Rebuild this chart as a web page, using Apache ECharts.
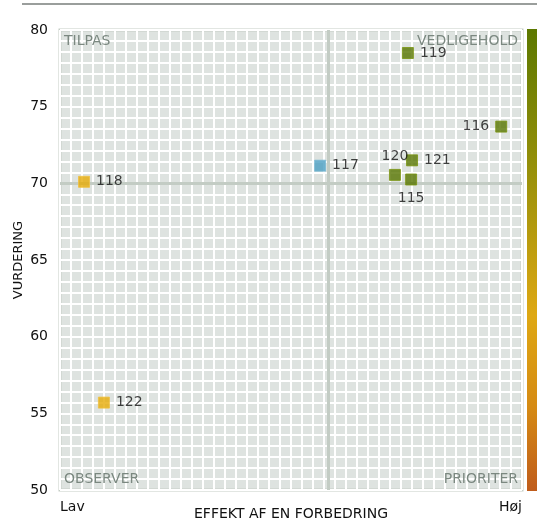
<!DOCTYPE html>
<html>
<head>
<meta charset="utf-8">
<script src="https://cdn.jsdelivr.net/npm/echarts@6/dist/echarts.min.js"></script>
<style>
  html, body { margin: 0; padding: 0; background: #fff; }
  #chart { width: 537px; height: 521px; }
</style>
</head>
<body>
<div id="chart"></div>
<script>
// data
const ids = ["119", "116", "117", "118", "120", "121", "115", "122"];
const effect = [75.3, 95.5, 56.3, 5.2, 72.5, 76.2, 76.0, 9.5];
const rating = [78.5, 73.7, 71.15, 70.1, 70.55, 71.5, 70.25, 55.7];
const groups = ["green", "green", "blue", "gold", "green", "green", "green", "gold"];
const labelPos = ["right", "left", "right", "right", "top", "right", "bottom", "right"];
const yTicks = [50, 55, 60, 65, 70, 75, 80];
const splitX = 58;
const splitY = 70;
const quadrants = ["TILPAS", "VEDLIGEHOLD", "OBSERVER", "PRIORITER"];

const palette = {
  green: { fill: "#567400", border: "#7a9612" },
  blue: { fill: "#4a9dc2", border: "#7cbad6" },
  gold: { fill: "#e6ab08", border: "#f0c040" },
};

const font = "DejaVu Sans";
const chart = echarts.init(document.getElementById("chart"), null, { renderer: "canvas" });

const points = ids.map((id, i) => ({
  name: id,
  value: [effect[i], rating[i]],
  itemStyle: { color: palette[groups[i]].fill, borderColor: palette[groups[i]].border, borderWidth: 1 },
  label: { position: labelPos[i] },
}));

const qLabel = (pos) => ({ show: true, position: pos, color: "#7b8880", fontSize: 14, fontFamily: font, distance: 4 });

chart.setOption({
  animation: false,
  textStyle: { fontFamily: font },
  grid: {
    left: 60, right: 15, top: 30, bottom: 31,
    outerBoundsMode: "none", containLabel: false,
    show: true, backgroundColor: "#dee3e0", borderColor: "#c5cec6", borderWidth: 3,
  },
  xAxis: [
    {
      type: "value", min: 0, max: 100, interval: 100,
      axisLine: { show: false }, axisTick: { show: false }, splitLine: { show: false },
      axisLabel: {
        color: "#111", fontSize: 14, margin: 10,
        alignMinLabel: "left", alignMaxLabel: "right",
        formatter: (v) => (v === 0 ? "Lav" : v === 100 ? "Høj" : ""),
      },
      name: "EFFEKT AF EN FORBEDRING", nameLocation: "middle", nameGap: 17,
      nameMoveOverlap: false,
      nameTextStyle: { color: "#111", fontSize: 14 },
    },
    {
      type: "value", min: 0, max: 42, interval: 1, show: true,
      axisLine: { show: false }, axisTick: { show: false }, axisLabel: { show: false },
      splitLine: { show: true, lineStyle: { color: "#ffffff", width: 2 } },
    },
  ],
  yAxis: [
    {
      type: "value", min: yTicks[0], max: yTicks[yTicks.length - 1], interval: 5,
      axisLine: { show: false }, axisTick: { show: false }, splitLine: { show: false },
      axisLabel: { color: "#111", fontSize: 14, margin: 12 },
      name: "VURDERING", nameLocation: "middle", nameGap: 35, nameRotate: 90,
      nameMoveOverlap: false,
      nameTextStyle: { color: "#111", fontSize: 13 },
    },
    {
      type: "value", min: 0, max: 42, interval: 1, show: true,
      axisLine: { show: false }, axisTick: { show: false }, axisLabel: { show: false },
      splitLine: { show: true, lineStyle: { color: "#ffffff", width: 2 } },
    },
  ],
  graphic: [
    {
      type: "line", shape: { x1: 22, y1: 4, x2: 537, y2: 4 },
      style: { stroke: "#9a9e9c", lineWidth: 2 },
    },
    {
      type: "rect", shape: { x: 527, y: 29, width: 10, height: 462 },
      style: {
        fill: new echarts.graphic.LinearGradient(0, 0, 0, 1, [
          { offset: 0, color: "#5c7800" },
          { offset: 0.3, color: "#96900a" },
          { offset: 0.62, color: "#dea814" },
          { offset: 0.82, color: "#d58a14" },
          { offset: 1, color: "#bf5c1c" },
        ]),
      },
    },
  ],
  series: [
    {
      type: "scatter",
      symbol: "rect", symbolSize: 11,
      data: points,
      label: {
        show: true, formatter: "{b}", color: "#111", fontSize: 14, distance: 6,
      },
      markLine: {
        silent: true, symbol: "none",
        lineStyle: { color: "#c3ccc4", width: 3, type: "solid" },
        label: { show: false },
        data: [{ xAxis: splitX }, { yAxis: splitY }],
      },
      markArea: {
        silent: true,
        itemStyle: { color: "rgba(0,0,0,0)" },
        data: [
          [{ name: quadrants[0], coord: [0, 80], label: qLabel("insideTopLeft") }, { coord: [100, 50] }],
          [{ name: quadrants[1], coord: [0, 80], label: qLabel("insideTopRight") }, { coord: [100, 50] }],
          [{ name: quadrants[2], coord: [0, 80], label: qLabel("insideBottomLeft") }, { coord: [100, 50] }],
          [{ name: quadrants[3], coord: [0, 80], label: qLabel("insideBottomRight") }, { coord: [100, 50] }],
        ],
      },
      z: 5,
    },
  ],
});
</script>
</body>
</html>
